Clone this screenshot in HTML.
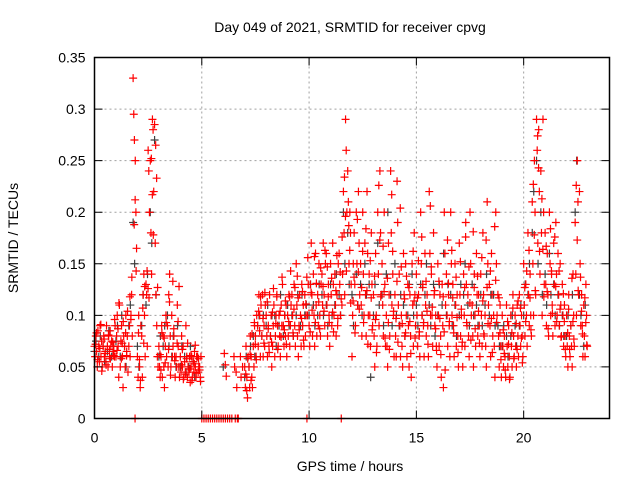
<!DOCTYPE html>
<html><head><meta charset="utf-8"><style>
html,body{margin:0;padding:0;background:#fff;}
svg{display:block;font-family:"Liberation Sans",sans-serif;}
</style></head><body>
<svg id="chart" width="640" height="480" viewBox="0 0 640 480">
<rect width="640" height="480" fill="#fff"/>
<g id="grid"></g>
<g id="black"></g>
<g id="red"></g>
<rect x="94.5" y="57.5" width="515" height="361" fill="none" stroke="#000" stroke-width="1.5"/>
<g id="ticks"></g>
<text x="350" y="32" text-anchor="middle" font-size="14">Day 049 of 2021, SRMTID for receiver cpvg</text>
<text x="350" y="471" text-anchor="middle" font-size="14">GPS time / hours</text>
<text x="18" y="238" text-anchor="middle" font-size="14" transform="rotate(-90 18 238)">SRMTID / TECUs</text>
</svg>
<script>
const xTicks=[0,5,10,15,20];
const yTicks=[0,0.05,0.1,0.15,0.2,0.25,0.3,0.35];
const yTickLabels=["0","0.05","0.1","0.15","0.2","0.25","0.3","0.35"];
// red values grouped by hour, each hour has 10 steps of 0.1h
const redByHour=[
[[.07,.06,.08],[.065,.05,.085],[.07,.055,.09],[.06,.075,.05],[.07,.08,.06],[.065,.055,.09],[.07,.05,.08],[.06,.085,.07],[.075,.05,.065],[.07,.06,.09]],
[[.06,.08,.1],[.07,.04,.11],[.05,.075,.09],[.06,.03,.08],[.07,.05,.1],[.065,.08,.045],[.07,.09,.06],[.1,.12,.08],[.33,.295,.27,0],[.25,.2,.165]],
[[.06,.04,.1],[.05,.03,.09],[.08,.04,.12],[.14,.1,.06],[.13,.12,.07],[.26,.24,.2],[.25,.18,.14],[.29,.28,.22],[.285,.17,.12],[.09,.06,.05]],
[[.07,.05,.04],[.06,.09,.04],[.08,.05,.03],[.07,.1,.06],[.09,.05,.12],[.14,.08,.05],[.1,.06,.07],[.08,.06,.04],[.06,.05,.11],[.07,.05,.04]],
[[.06,.045,.08],[.05,.07,.04],[.055,.045,.09],[.06,.04,.05],[.045,.06,.035],[.05,.06,.04],[.055,.045,.065],[.05,.04,.06],[.06,.045,.05],[.05,.04,.06]],
[[0],[0],[0],[0],[0],[0],[0],[0],[0],[0]],
[[0],[0],[0],[0],[0],[.06,.05,0],[.045,.03,0],[0],[.06,.04],[.05]],
[[.05,.03,.07],[.04,.02,.06],[.05,.03,.08],[.06,.04,.03],[.07,.05,.09],[.08,.06,.1],[.09,.07,.12],[.1,.06,.11],[.08,.12,.06],[.09,.07,.11]],
[[.1,.08,.06],[.09,.07,.12],[.08,.1,.05],[.07,.09,.11],[.06,.08,.1],[.12,.09,.07],[.1,.08,.06],[.11,.09,.13],[.09,.07,.1],[.08,.11,.06]],
[[.1,.08,.12],[.07,.09,.11],[.12,.1,.08],[.13,.09,.07],[.15,.11,.08],[.06,.09,.12],[.1,.07,.13],[.09,.11,.07],[.12,.08,.1],[0,.1,.13]],
[[.09,.07,.13],[.17,.12,.08],[.14,.1,.07],[.16,.11,.08],[.12,.09,.15],[.1,.08,.13],[.14,.11,.17],[.12,.09,.15],[.16,.11,.08],[.13,.1,.07]],
[[.15,.12,.09],[.17,.13,.1],[.14,.11,.08],[.12,.09,.15],[.16,.13,.1],[0,.11,.14],[.22,.18,.12],[.29,.26,.2],[.24,.21,.15],[.2,.18,.13]],
[[.06,.1,.15],[.18,.13,.09],[.2,.15,.11],[.22,.17,.12],[.15,.11,.08],[.2,.14,.1],[.17,.12,.08],[.22,.16,.1],[.14,.1,.07],[.18,.13,.09]],
[[.12,.08,.05],[.16,.1,.07],[.2,.14,.09],[.24,.18,.12],[.15,.11,.08],[.2,.13,.07],[.1,.07,.05],[.17,.12,.08],[.24,.18,.11],[.14,.1,.06]],
[[.12,.08,.06],[.23,.19,.11],[.14,.09,.06],[.1,.07,.05],[.16,.12,.08],[.15,.1,.06],[.13,.09,.05],[.12,.08,.04],[.15,.11,.07],[.18,.12,.09]],
[[.14,.1,.07],[.12,.08,.06],[.2,.15,.1],[.13,.09,.06],[.16,.11,.08],[.12,.09,.06],[.22,.16,.1],[.14,.1,.07],[.18,.12,.09],[.1,.07,.05]],
[[.15,.1,.07],[.12,.08,.04],[.13,.09,.03],[.2,.16,.11],[.14,.1,.07],[.12,.09,.06],[.2,.15,.1],[.13,.09,.06],[.15,.11,.07],[.12,.08,.05]],
[[.17,.12,.08],[.1,.07,.05],[.14,.1,.07],[.19,.13,.09],[.12,.08,.06],[.2,.15,.1],[.11,.08,.05],[.14,.1,.07],[.16,.12,.08],[.12,.09,.06]],
[[.14,.1,.07],[.18,.12,.08],[.1,.07,.05],[.21,.15,.11],[.13,.09,.06],[.16,.12,.08],[.1,.07,.04],[.2,.15,.1],[.12,.08,.05],[.11,.07,.04]],
[[.1,.07,.05],[.08,.06,.04],[.11,.07,.05],[.09,.06,.04],[.1,.07,.05],[.12,.08,.06],[.1,.07,.05],[.11,.08,.06],[.12,.09,.07],[.1,.08,.06]],
[[.15,.11,.08],[.13,.1,.07],[.18,.12,.09],[.14,.1,.08],[.21,.15,.1],[.25,.2,.12],[.29,.26,.17],[.28,.22,.14],[.24,.18,.1],[.29,.2,.13]],
[[.18,.13,.09],[.16,.12,.08],[.2,.15,.1],[.14,.11,.08],[.17,.13,.09],[.19,.14,.1],[.16,.12,.09],[.15,.11,.08],[.13,.1,.07],[.11,.08,.06]],
[[.1,.07,.05],[.12,.08,.06],[.09,.07,.05],[.14,.1,.07],[.19,.14,.1],[.25,.21,.12],[.22,.15,.09],[.12,.09,.06],[.11,.08,.06],[.13,.1,.07]]
];
// additional red values, 5 steps of 0.2h per hour (offset by 0.05h)
const redExtraByHour=[
[[.072,.083,.057],[.068,.091,.046],[.077,.063,.052],[.081,.067,.058],[.074,.061,.096]],
[[.066,.087,.112],[.058,.073,.094],[.083,.061,.104],[.118,.096,.137],[.188,.212,.143]],
[[.083,.057,.037],[.107,.073,.128],[.143,.126,.117],[.252,.217,.178],[.265,.233,.127]],
[[.062,.047,.083],[.078,.054,.093],[.067,.113,.042],[.133,.087,.056],[.073,.094,.128]],
[[.052,.067,.038],[.043,.058,.073],[.048,.061,.037],[.053,.071,.044],[.058,.047,.036]],
[],
[[.063,.052,.041]],
[[.043,.027,.058],[.062,.037,.082],[.093,.072,.057],[.104,.085,.118],[.097,.073,.122]],
[[.113,.087,.064],[.074,.103,.126],[.092,.118,.067],[.104,.079,.137],[.086,.114,.072]],
[[.094,.118,.143],[.083,.106,.127],[.138,.117,.086],[.097,.123,.076],[.111,.137,.156]],
[[.084,.122,.105],[.157,.093,.131],[.113,.087,.146],[.128,.104,.163],[.147,.118,.093]],
[[.136,.103,.084],[.124,.158,.097],[.142,.116,.176],[.234,.196,.143],[.187,.163,.112]],
[[.114,.137,.083],[.193,.142,.106],[.127,.162,.093],[.184,.124,.072],[.153,.117,.086]],
[[.138,.096,.064],[.226,.173,.118],[.167,.123,.078],[.136,.093,.067],[.217,.162,.104]],
[[.097,.133,.074],[.204,.147,.092],[.116,.083,.138],[.127,.094,.063],[.162,.114,.078]],
[[.117,.153,.084],[.176,.127,.093],[.133,.104,.072],[.206,.147,.108],[.124,.087,.066]],
[[.133,.097,.062],[.118,.084,.047],[.173,.131,.094],[.163,.117,.083],[.137,.098,.064]],
[[.152,.106,.074],[.127,.176,.093],[.147,.112,.076],[.181,.127,.087],[.138,.104,.073]],
[[.156,.114,.082],[.173,.127,.092],[.143,.097,.064],[.186,.134,.093],[.117,.083,.057]],
[[.086,.063,.047],[.094,.072,.038],[.083,.107,.058],[.092,.067,.114],[.107,.078,.054]],
[[.127,.094,.143],[.163,.117,.086],[.227,.178,.124],[.274,.243,.162],[.213,.164,.118]],
[[.167,.123,.087],[.184,.143,.102],[.176,.128,.094],[.143,.106,.079],[.121,.094,.067]],
[[.083,.106,.067],[.136,.094,.077],[.226,.173,.124],[.137,.104,.082],[.117,.093,.071]]
];
// black values grouped by hour, 5 steps of 0.2h
const blackByHour=[
[[.065,.075],[.06,.08],[.07,.055],[.065,.085],[.06,.07]],
[[.075,.09],[.06,.1],[.07,.05],[.09,.11],[.19,.15]],
[[.07,.05],[.09,.12],[.11,.14],[.2,.17],[.27,.12]],
[[.06,.08],[.07,.09],[.1,.07],[.06,.08],[.05,.09]],
[[.05,.07],[.06,.045],[.05,.07],[.055,.04],[.06,.05]],
[],
[[.05]],
[[.04,.06],[.05,.07],[.08,.06],[.09,.1],[.08,.1]],
[[.09,.11],[.08,.1],[.1,.07],[.09,.12],[.08,.1]],
[[.11,.09],[.1,.08],[.1,.12],[.09,.12],[.1,.11]],
[[.1,.13],[.11,.09],[.1,.13],[.12,.1],[.11,.09]],
[[.13,.1],[.11,.14],[.12,.1],[.2,.15],[.18,.13]],
[[.12,.09],[.14,.11],[.13,.1],[.15,.12],[.13,.04]],
[[.1,.13],[.17,.11],[.12,.09],[.14,.2],[.12,.09]],
[[.15,.1],[.09,.12],[.11,.08],[.1,.13],[.14,.1]],
[[.11,.09],[.13,.1],[.12,.15],[.11,.09],[.13,.08]],
[[.1,.13],[.11,.16],[.1,.13],[.12,.09],[.11,.08]],
[[.1,.13],[.12,.15],[.11,.09],[.13,.1],[.11,.09]],
[[.12,.09],[.11,.14],[.1,.12],[.12,.09],[.09,.07]],
[[.07,.09],[.08,.06],[.08,.1],[.09,.07],[.09,.11]],
[[.1,.13],[.12,.15],[.18,.22],[.25,.15],[.2,.12]],
[[.14,.11],[.16,.12],[.13,.1],[.12,.09],[.1,.08]],
[[.08,.1],[.09,.12],[.2,.25],[.12,.1],[.07,.11]]
];
const X0=94.5,X1=609.5,Y0=418.5,Y1=57.5,XMAX=24,YMAX=0.35;
const ns="http://www.w3.org/2000/svg";
function sx(t){return X0+(X1-X0)*t/XMAX;}
function sy(v){return Y0-(Y0-Y1)*v/YMAX;}
const grid=document.getElementById('grid'),ticks=document.getElementById('ticks');
function mk(tag,attrs,parent){const e=document.createElementNS(ns,tag);for(const k in attrs)e.setAttribute(k,attrs[k]);parent.appendChild(e);return e;}
yTicks.forEach((v,i)=>{
  const y=sy(v);
  if(i>0&&i<yTicks.length-1){const g=mk('line',{x1:X0,x2:X1,y1:y,y2:y,stroke:'#a0a0a0','stroke-dasharray':'2,3'},grid);
  
  }
  const tl=mk('path',{d:`M${X0} ${y}h8M${X1} ${y}h-8`,stroke:'#000'},ticks);
  
  
  const t=mk('text',{x:X0-9,y:y+5,'text-anchor':'end','font-size':'14'},ticks);t.textContent=yTickLabels[i];
  
  
});
xTicks.forEach(v=>{
  const x=sx(v);
  if(v>0){const g=mk('line',{x1:x,x2:x,y1:Y0,y2:Y1,stroke:'#a0a0a0','stroke-dasharray':'2,3'},grid);
  
  }
  const tl=mk('path',{d:`M${x} ${Y0}v-8M${x} ${Y1}v8`,stroke:'#000'},ticks);
  
  
  const t=mk('text',{x:x,y:Y0+24,'text-anchor':'middle','font-size':'14'},ticks);t.textContent=String(v);
  
  
});
function plus(parent,t,v,col){
  const x=sx(t),y=sy(v);
  const p=mk('path',{d:`M${x-4} ${y}h8M${x} ${y-4}v8`,stroke:col,'stroke-width':'1.2',fill:'none'},parent);
  
  
}
const bg=document.getElementById('black');
blackByHour.forEach((hr,h)=>hr.forEach((vals,k)=>vals.forEach((v,j)=>plus(bg,h+k*0.2+j*0.07,v,'#404040'))));
const rg=document.getElementById('red');
redByHour.forEach((hr,h)=>hr.forEach((vals,k)=>vals.forEach((v,j)=>plus(rg,h+k*0.1+j*0.03,v,'#ff0000'))));
redExtraByHour.forEach((hr,h)=>hr.forEach((vals,k)=>vals.forEach((v,j)=>plus(rg,h+0.05+k*0.2+j*0.045,v,'#ff0000'))));
</script>
</body></html>
